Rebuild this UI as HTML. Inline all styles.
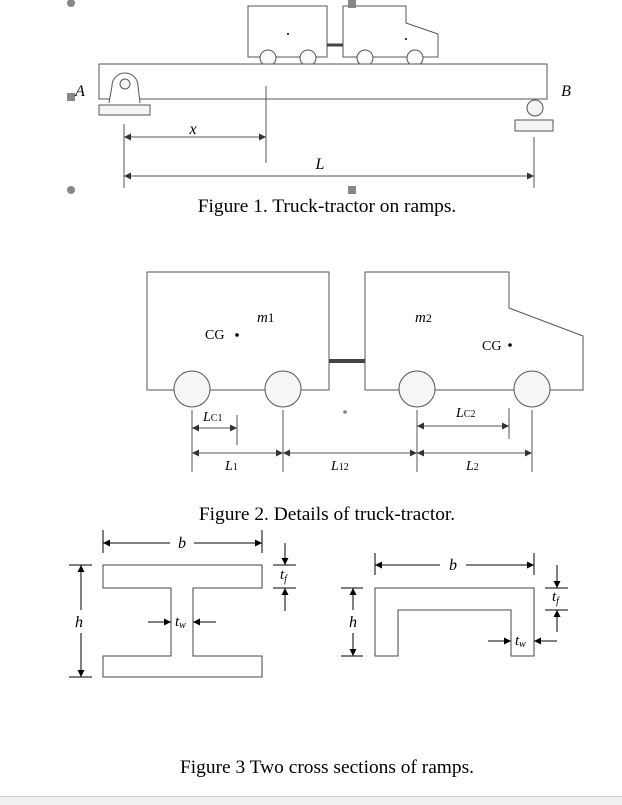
<!DOCTYPE html>
<html><head><meta charset="utf-8"><style>
html,body{margin:0;padding:0;background:#fff;}
svg{display:block;}
text{font-family:"Liberation Serif",serif;fill:#000;}
</style></head><body>
<svg width="622" height="805" viewBox="0 0 622 805" xmlns="http://www.w3.org/2000/svg">
<defs>
<marker id="ar" viewBox="0 0 10 10" refX="10" refY="5" markerWidth="9" markerHeight="7" orient="auto-start-reverse" markerUnits="userSpaceOnUse"><path d="M0,0 L10,5 L0,10 z" fill="#333"/></marker>
<marker id="ak" viewBox="0 0 10 10" refX="10" refY="5" markerWidth="7" markerHeight="9" orient="auto-start-reverse" markerUnits="userSpaceOnUse"><path d="M0,0 L10,5 L0,10 z" fill="#000"/></marker>
</defs>
<g fill="none" stroke="#555" stroke-width="1">
<rect x="248" y="6" width="79" height="51" fill="#fff"/>
<path d="M343,6 H406 V23 L438,34 V57 H343 Z" fill="#fff"/>
<line x1="327" y1="45" x2="343" y2="45" stroke="#444" stroke-width="3"/>
<g fill="#fafafa"><circle cx="268" cy="58" r="8"/><circle cx="308" cy="58" r="8"/><circle cx="365" cy="58" r="8"/><circle cx="415" cy="58" r="8"/></g>
<rect x="99" y="64" width="448" height="35" fill="#fff"/>
<path d="M109,103 L112,86 A13,13 0 0 1 138,86 L140,103" fill="#fff"/>
<circle cx="125" cy="84" r="5" fill="#f4f4f4"/>
<rect x="99" y="105" width="51" height="10" fill="#f4f4f4"/>
<circle cx="535" cy="108" r="8" fill="#f4f4f4"/>
<rect x="515" y="120" width="38" height="11" fill="#f4f4f4"/>
<line x1="124" y1="124" x2="124" y2="188"/>
<line x1="266" y1="86" x2="266" y2="163"/>
<line x1="534" y1="137" x2="534" y2="188"/>
<line x1="124" y1="137" x2="266" y2="137" marker-start="url(#ar)" marker-end="url(#ar)"/>
<line x1="124" y1="176" x2="534" y2="176" marker-start="url(#ar)" marker-end="url(#ar)"/>
</g>
<circle cx="288" cy="34" r="1" fill="#000"/><circle cx="406" cy="39" r="1" fill="#000"/>
<g fill="#888"><circle cx="71" cy="3" r="4"/><circle cx="71" cy="190" r="4"/><rect x="348" y="0" width="8" height="8"/><rect x="348" y="186" width="8" height="8"/><rect x="67" y="93" width="8" height="8"/></g>
<text x="80" y="96" font-size="16" font-style="italic" text-anchor="middle">A</text>
<text x="566" y="96" font-size="16" font-style="italic" text-anchor="middle">B</text>
<text x="193" y="134" font-size="16" font-style="italic" text-anchor="middle">x</text>
<text x="320" y="169" font-size="16" font-style="italic" text-anchor="middle">L</text>
<text x="327" y="212" font-size="19.4" text-anchor="middle">Figure 1. Truck-tractor on ramps.</text>

<g fill="none" stroke="#555" stroke-width="1">
<rect x="147" y="272" width="182" height="118" fill="#fff"/>
<path d="M365,272 H509 V308 L583,336 V390 H365 Z" fill="#fff"/>
<line x1="329" y1="361" x2="365" y2="361" stroke="#444" stroke-width="4"/>
<g fill="#f6f6f6"><circle cx="192" cy="389" r="18"/><circle cx="283" cy="389" r="18"/><circle cx="417" cy="389" r="18"/><circle cx="532" cy="389" r="18"/></g>
<line x1="192" y1="410" x2="192" y2="472"/>
<line x1="237" y1="415" x2="237" y2="445"/>
<line x1="283" y1="410" x2="283" y2="472"/>
<line x1="417" y1="410" x2="417" y2="472"/>
<line x1="509" y1="408" x2="509" y2="439"/>
<line x1="532" y1="410" x2="532" y2="472"/>
<line x1="192" y1="428" x2="237" y2="428" marker-start="url(#ar)" marker-end="url(#ar)"/>
<line x1="417" y1="426" x2="509" y2="426" marker-start="url(#ar)" marker-end="url(#ar)"/>
<line x1="192" y1="453" x2="283" y2="453" marker-start="url(#ar)" marker-end="url(#ar)"/>
<line x1="283" y1="453" x2="417" y2="453" marker-start="url(#ar)" marker-end="url(#ar)"/>
<line x1="417" y1="453" x2="532" y2="453" marker-start="url(#ar)" marker-end="url(#ar)"/>
<rect x="344" y="411" width="2" height="2"/>
</g>
<circle cx="237" cy="335" r="1.8" fill="#000"/><circle cx="510" cy="345" r="1.8" fill="#000"/>
<text x="205" y="339" font-size="14">CG</text>
<text x="482" y="350" font-size="14">CG</text>
<text x="257" y="322" font-size="15" font-style="italic">m<tspan font-style="normal" font-size="13">1</tspan></text>
<text x="415" y="322" font-size="15" font-style="italic">m<tspan font-style="normal" font-size="12">2</tspan></text>
<text x="203" y="421" font-size="14" font-style="italic">L<tspan font-style="normal" font-size="10">C1</tspan></text>
<text x="456" y="417" font-size="14" font-style="italic">L<tspan font-style="normal" font-size="10">C2</tspan></text>
<text x="225" y="470" font-size="14" font-style="italic">L<tspan font-style="normal" font-size="10">1</tspan></text>
<text x="331" y="470" font-size="14" font-style="italic">L<tspan font-style="normal" font-size="10">12</tspan></text>
<text x="466" y="470" font-size="14" font-style="italic">L<tspan font-style="normal" font-size="10">2</tspan></text>
<text x="327" y="520" font-size="19.4" text-anchor="middle">Figure 2. Details of truck-tractor.</text>

<g fill="none" stroke="#444" stroke-width="1">
<path d="M103,565 H262 V588 H193 V656 H262 V677 H103 V656 H171 V588 H103 Z"/>
<path d="M375,588 H534 V656 H511 V610 H398 V656 H375 Z"/>
</g>
<g fill="none" stroke="#000" stroke-width="1">
<line x1="103" y1="530" x2="103" y2="553"/><line x1="262" y1="530" x2="262" y2="553"/>
<line x1="103" y1="543" x2="170" y2="543" marker-start="url(#ak)"/><line x1="194" y1="543" x2="262" y2="543" marker-end="url(#ak)"/>
<line x1="69" y1="565" x2="92" y2="565"/><line x1="69" y1="677" x2="92" y2="677"/>
<line x1="81" y1="565" x2="81" y2="610" marker-start="url(#ak)"/><line x1="81" y1="633" x2="81" y2="677" marker-end="url(#ak)"/>
<line x1="273" y1="565" x2="296" y2="565"/><line x1="273" y1="588" x2="296" y2="588"/>
<line x1="285" y1="543" x2="285" y2="565" marker-end="url(#ak)"/><line x1="285" y1="611" x2="285" y2="588" marker-end="url(#ak)"/>
<line x1="148" y1="622" x2="171" y2="622" marker-end="url(#ak)"/><line x1="216" y1="622" x2="193" y2="622" marker-end="url(#ak)"/>
<line x1="375" y1="553" x2="375" y2="575"/><line x1="534" y1="553" x2="534" y2="575"/>
<line x1="375" y1="565" x2="440" y2="565" marker-start="url(#ak)"/><line x1="466" y1="565" x2="534" y2="565" marker-end="url(#ak)"/>
<line x1="341" y1="588" x2="363" y2="588"/><line x1="341" y1="656" x2="363" y2="656"/>
<line x1="353" y1="588" x2="353" y2="610" marker-start="url(#ak)"/><line x1="353" y1="633" x2="353" y2="656" marker-end="url(#ak)"/>
<line x1="545" y1="588" x2="568" y2="588"/><line x1="545" y1="610" x2="568" y2="610"/>
<line x1="557" y1="565" x2="557" y2="588" marker-end="url(#ak)"/><line x1="557" y1="632" x2="557" y2="610" marker-end="url(#ak)"/>
<line x1="488" y1="641" x2="511" y2="641" marker-end="url(#ak)"/><line x1="557" y1="641" x2="534" y2="641" marker-end="url(#ak)"/>
</g>
<text x="182" y="548" font-size="16" font-style="italic" text-anchor="middle">b</text>
<text x="453" y="570" font-size="16" font-style="italic" text-anchor="middle">b</text>
<text x="79" y="627" font-size="16" font-style="italic" text-anchor="middle">h</text>
<text x="353" y="627" font-size="16" font-style="italic" text-anchor="middle">h</text>
<text x="280" y="579" font-size="15" font-style="italic">t<tspan font-size="10" dy="3">f</tspan></text>
<text x="552" y="601" font-size="15" font-style="italic">t<tspan font-size="10" dy="3">f</tspan></text>
<text x="175" y="626" font-size="15" font-style="italic">t<tspan font-size="10" dy="2">w</tspan></text>
<text x="515" y="645" font-size="15" font-style="italic">t<tspan font-size="10" dy="2">w</tspan></text>
<text x="327" y="773" font-size="19.4" text-anchor="middle">Figure 3 Two cross sections of ramps.</text>
<rect x="0" y="796" width="622" height="9" fill="#f0f0f0"/>
<line x1="0" y1="796.5" x2="622" y2="796.5" stroke="#ccc"/>
</svg>
</body></html>
